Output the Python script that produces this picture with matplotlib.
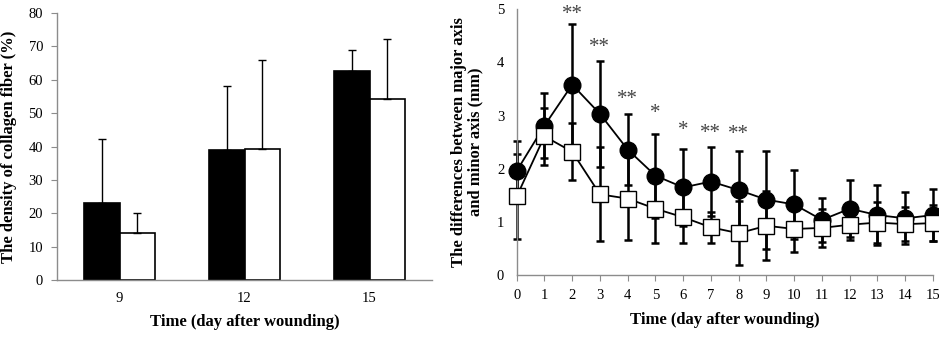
import matplotlib
matplotlib.use("Agg")
import matplotlib.pyplot as plt
import numpy as np

plt.rcParams['font.family'] = ['Liberation Serif', 'DejaVu Serif']

# ---- Left chart data ----
bar_categories = ["9", "12", "15"]
bar_black = [23.0, 39.0, 62.7]
bar_black_err = [19.3, 19.0, 6.3]
bar_white = [14.0, 39.2, 54.2]
bar_white_err = [6.0, 26.8, 18.1]
left_yticks = [0, 10, 20, 30, 40, 50, 60, 70, 80]

# ---- Right chart data ----
days = list(range(16))
circle_vals = [1.96, 2.81, 3.58, 3.03, 2.36, 1.87, 1.65, 1.76, 1.60, 1.42, 1.33, 1.04, 1.25, 1.13, 1.07, 1.13]
circle_err = [0.57, 0.61, 1.14, 1.00, 0.67, 0.79, 0.72, 0.64, 0.74, 0.92, 0.64, 0.42, 0.54, 0.57, 0.49, 0.49]
square_vals = [1.48, 2.61, 2.32, 1.52, 1.44, 1.25, 1.09, 0.90, 0.79, 0.93, 0.87, 0.89, 0.95, 0.99, 0.96, 0.98]
square_err = [0.80, 0.53, 0.54, 0.88, 0.78, 0.65, 0.48, 0.29, 0.60, 0.65, 0.43, 0.36, 0.29, 0.38, 0.32, 0.34]
sig_days = [2, 3, 4, 5, 6, 7, 8]
sig_labels = ["**", "**", "**", "*", "*", "**", "**"]
sig_y = [4.90, 4.28, 3.31, 3.03, 2.71, 2.67, 2.65]
right_yticks = [0, 1, 2, 3, 4, 5]

W, H = 939, 341
fig = plt.figure(figsize=(W / 100, H / 100), dpi=100)

spine_col = "#8c8c8c"
tick_fs = 10.5
label_fs = 12

# ---------- Left ----------
axL = fig.add_axes([57 / W, 1 - 280 / H, (432 - 57) / W, (280 - 13) / H])
x = np.arange(len(bar_categories))
bw = 0.285
axL.bar(x - bw / 2, bar_black, bw, color="black", edgecolor="black", linewidth=1.2, zorder=2)
axL.bar(x + bw / 2, bar_white, bw, color="white", edgecolor="black", linewidth=1.2, zorder=2)
axL.errorbar(x - bw / 2, bar_black, yerr=[np.zeros(3), bar_black_err], fmt="none",
             ecolor="black", elinewidth=1.0, capsize=3, capthick=1.0, zorder=3)
axL.errorbar(x + bw / 2, bar_white, yerr=[np.zeros(3), bar_white_err], fmt="none",
             ecolor="black", elinewidth=1.0, capsize=3, capthick=1.0, zorder=3)
axL.set_xlim(-0.5, 2.5)
axL.set_ylim(0, 80)
axL.set_yticks(left_yticks)
axL.set_xticks(x)
axL.set_xticklabels(bar_categories)
axL.tick_params(axis="x", length=0, labelsize=tick_fs, pad=9)
axL.tick_params(axis="y", length=4, color=spine_col, labelsize=tick_fs, pad=6)
for s in ["top", "right"]:
    axL.spines[s].set_visible(False)
for s in ["left", "bottom"]:
    axL.spines[s].set_color(spine_col)
    axL.spines[s].set_linewidth(1.0)
axL.set_ylabel("The density of collagen fiber (%)", fontsize=label_fs, fontweight="bold", labelpad=8)
axL.set_xlabel("Time (day after wounding)", fontsize=label_fs, fontweight="bold", labelpad=6)

# ---------- Right ----------
axR = fig.add_axes([516.7 / W, 1 - 275.3 / H, (933 - 516.7) / W, (275.3 - 9) / H])
axR.errorbar(days, square_vals, yerr=square_err, fmt="none", ecolor="black",
             elinewidth=1.8, capsize=2.6, capthick=1.8, zorder=2)
axR.errorbar(days, circle_vals, yerr=circle_err, fmt="none", ecolor="black",
             elinewidth=1.8, capsize=2.6, capthick=1.8, zorder=2)
axR.plot(days, circle_vals, color="black", linewidth=1.3, marker="o", markersize=12,
         markerfacecolor="black", markeredgecolor="black", zorder=3)
axR.plot(days, square_vals, color="black", linewidth=1.3, marker="s", markersize=11.5,
         markerfacecolor="white", markeredgecolor="black", markeredgewidth=1.0, zorder=4)
for d, lab, yy in zip(sig_days, sig_labels, sig_y):
    axR.text(d, yy, lab, ha="center", va="center", fontsize=15, color="#444444")
axR.set_xlim(0, 15)
axR.set_ylim(0, 5)
axR.set_xticks(days)
axR.set_yticks(right_yticks)
axR.tick_params(axis="x", length=4, color=spine_col, labelsize=tick_fs, pad=6)
axR.tick_params(axis="y", length=0, labelsize=tick_fs, pad=9)
for s in ["top", "right"]:
    axR.spines[s].set_visible(False)
for s in ["left", "bottom"]:
    axR.spines[s].set_color(spine_col)
    axR.spines[s].set_linewidth(1.0)
axR.set_ylabel("The differences between major axis\nand minor axis (mm)", fontsize=label_fs,
               fontweight="bold", labelpad=10, linespacing=1.0)
axR.set_xlabel("Time (day after wounding)", fontsize=label_fs, fontweight="bold", labelpad=7)
for line in axR.get_children():
    try:
        line.set_clip_on(False)
    except Exception:
        pass

fig.savefig("out.png", dpi=100)
